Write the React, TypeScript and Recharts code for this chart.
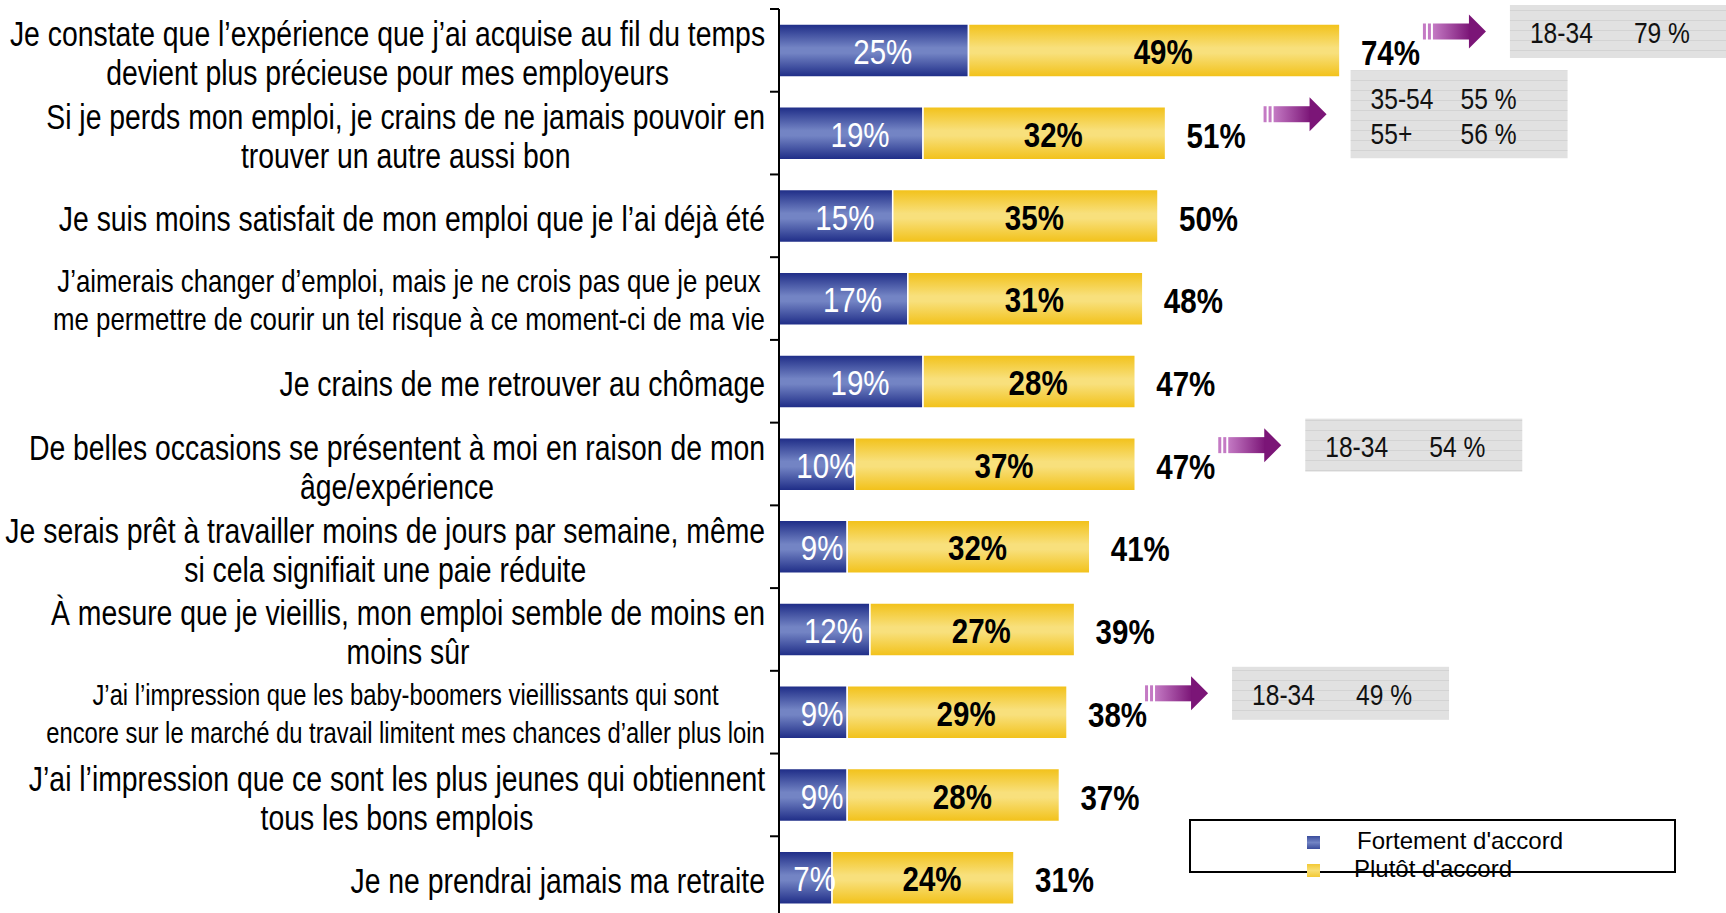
import React from 'react';
import { BarChart, Bar, XAxis, YAxis, LabelList, Legend } from 'recharts';

const CATEGORIES = [
  "Je constate que l’expérience que j’ai acquise au fil du temps\ndevient plus précieuse pour mes employeurs",
  "Si je perds mon emploi, je crains de ne jamais pouvoir en\ntrouver un autre aussi bon",
  "Je suis moins satisfait de mon emploi que je l’ai déjà été",
  "J’aimerais changer d’emploi, mais je ne crois pas que je peux\nme permettre de courir un tel risque à ce moment-ci de ma vie",
  "Je crains de me retrouver au chômage",
  "De belles occasions se présentent à moi en raison de mon\nâge/expérience",
  "Je serais prêt à travailler moins de jours par semaine, même\nsi cela signifiait une paie réduite",
  "À mesure que je vieillis, mon emploi semble de moins en\nmoins sûr",
  "J’ai l’impression que les baby-boomers vieillissants qui sont\nencore sur le marché du travail limitent mes chances d’aller plus loin",
  "J’ai l’impression que ce sont les plus jeunes qui obtiennent\ntous les bons emplois",
  "Je ne prendrai jamais ma retraite",
];
const STRONGLY = [25, 19, 15, 17, 19, 10, 9, 12, 9, 9, 7];
const SOMEWHAT = [49, 32, 35, 31, 28, 37, 32, 27, 29, 28, 24];
const TOTALS = [74, 51, 50, 48, 47, 47, 41, 39, 38, 37, 31];
const SERIES_NAMES = ["Fortement d'accord", "Plutôt d'accord"];

const ANNOTATION_ROWS = [0, 1, 5, 8];
const ANNOTATION_TEXT = [
  [["18-34", "79 %"]],
  [["35-54", "55 %"], ["55+", "56 %"]],
  [["18-34", "54 %"]],
  [["18-34", "49 %"]],
];
const SMALL_LABEL_SIZES: Record<number, number> = { 3: 31.5, 8: 29 };

const data = CATEGORIES.map((label, i) => ({
  label,
  strongly: STRONGLY[i],
  somewhat: SOMEWHAT[i],
  total: TOTALS[i],
}));

const SANS = "'Liberation Sans', Arimo, Arial, sans-serif";
const NARROW = 0.82;
const CHART_H = 930;
const M_TOP = 9;
const M_BOTTOM = 11;
const BAND = (CHART_H - M_TOP - M_BOTTOM) / CATEGORIES.length;
const AXIS_X = 779;
const LABEL_RIGHT = 765;
const MAIN_LABEL_SIZE = 34.6;

let ctx: any = null;
function measure(text: string, fs: number) {
  if (!ctx) {
    const c = document.createElement('canvas');
    ctx = c.getContext('2d');
  }
  ctx.font = `${fs}px ${SANS}`;
  return ctx.measureText(text).width * NARROW;
}

const NText = ({ x, y, size, anchor = 'start', weight = 'normal', fill = '#000', children }: any) => (
  <text
    transform={`translate(${x},${y}) scale(${NARROW},1)`}
    x={0}
    y={0}
    textAnchor={anchor}
    dominantBaseline="central"
    fontFamily={SANS}
    fontSize={size}
    fontWeight={weight}
    fill={fill}
  >
    {children}
  </text>
);

const CategoryTick = (props: any) => {
  const { y, payload } = props;
  const index = props.index ?? payload.index;
  const lines = String(payload.value).split('\n');
  const fs = SMALL_LABEL_SIZES[index] ?? MAIN_LABEL_SIZE;
  const small = fs < MAIN_LABEL_SIZE;
  const w = Math.max(...lines.map((l) => measure(l, fs)));
  const cx = LABEL_RIGHT - w / 2;
  const ys = lines.length === 1 ? [y + 3] : small ? [y - 17, y + 21] : [y - 16, y + 23];
  return (
    <g>
      <line x1={AXIS_X - 9} x2={AXIS_X} y1={y - BAND / 2} y2={y - BAND / 2} stroke="#000" strokeWidth={2} />
      {index === CATEGORIES.length - 1 && (
        <line x1={AXIS_X - 9} x2={AXIS_X} y1={y + BAND / 2} y2={y + BAND / 2} stroke="#000" strokeWidth={2} />
      )}
      {lines.map((l, k) => (
        <NText
          key={k}
          x={lines.length === 1 ? LABEL_RIGHT : cx}
          y={ys[k]}
          anchor={lines.length === 1 ? 'end' : 'middle'}
          size={fs}
        >
          {l}
        </NText>
      ))}
    </g>
  );
};

const InnerLabel = (color: string, weight: string) => (props: any) => {
  const { x, y, width, height, value } = props;
  return (
    <NText x={x + width / 2 + 9} y={y + height / 2 + 1} anchor="middle" size={36} weight={weight} fill={color}>
      {value}%
    </NText>
  );
};

const TotalAndAnnotation = (props: any) => {
  const { x, y, width, height, index } = props;
  const end = x + width;
  const cy = y + height / 2;
  const total = TOTALS[index];
  const ai = ANNOTATION_ROWS.indexOf(index);
  let annotation = null;
  if (ai >= 0) {
    const rows = ANNOTATION_TEXT[ai];
    const ax = end + (index === 1 ? 98 : index === 8 ? 78 : 83);
    const ay = cy - 19;
    const bx = ax + 87;
    const bh = rows.length === 1 ? 53 : 88;
    const by = ay - bh / 2;
    annotation = (
      <g>
        <rect x={ax} y={ay - 8} width={3} height={16} fill="#c47ac4" />
        <rect x={ax + 5} y={ay - 8} width={3} height={16} fill="#c47ac4" />
        <rect x={ax + 10} y={ay - 8} width={37} height={16} fill="url(#arrowGrad)" />
        <polygon points={`${ax + 46},${ay - 17} ${ax + 63},${ay} ${ax + 46},${ay + 17}`} fill="#7b1577" />
        <rect x={bx} y={by} width={217} height={bh} fill="url(#greyTex)" />
        {rows.map((r, k) => {
          const ty = rows.length === 1 ? ay + 1 : ay - 16 + k * 35;
          return (
            <g key={k}>
              <NText x={bx + 20} y={ty} size={30} fill="#111">{r[0]}</NText>
              <NText x={bx + (rows.length === 1 ? 124 : 110)} y={ty} size={30} fill="#111">{r[1]}</NText>
            </g>
          );
        })}
      </g>
    );
  }
  return (
    <g>
      <NText x={end + 21} y={cy + 2} size={36} weight="bold">
        {total}%
      </NText>
      {annotation}
    </g>
  );
};

const LegendContent = () => (
  <div style={{ position: 'relative', width: 487, height: 54, fontFamily: SANS }}>
    <div style={{ position: 'absolute', left: 0, top: 0, width: 483, height: 50, border: '2px solid #000', background: '#fff' }} />
    <div style={{ position: 'absolute', left: 118, top: 17, width: 13, height: 13, background: 'linear-gradient(#3a4c9c, #7284c4, #3a4c9c)' }} />
    <div style={{ position: 'absolute', left: 168, top: 6, fontSize: 24, lineHeight: '32px', color: '#000', whiteSpace: 'nowrap' }}>{SERIES_NAMES[0]}</div>
    <div style={{ position: 'absolute', left: 118, top: 45, width: 13, height: 13, background: 'linear-gradient(#f3c935, #f8df75, #f3c935)' }} />
    <div style={{ position: 'absolute', left: 165, top: 34, fontSize: 24, lineHeight: '32px', color: '#000', whiteSpace: 'nowrap' }}>{SERIES_NAMES[1]}</div>
  </div>
);

export default function App() {
  return (
    <div style={{ position: 'absolute', left: 0, top: 0, width: 1726, height: 913, overflow: 'hidden', background: '#fff' }}>
      <BarChart
        width={1726}
        height={CHART_H}
        data={data}
        layout="vertical"
        margin={{ top: M_TOP, right: 189, bottom: M_BOTTOM, left: 0 }}
        barSize={53}
      >
        <defs>
          <linearGradient id="blueGrad" x1="0" y1="0" x2="0" y2="1">
            <stop offset="0%" stopColor="#1d2b86" />
            <stop offset="45%" stopColor="#7384c4" />
            <stop offset="55%" stopColor="#7384c4" />
            <stop offset="100%" stopColor="#1d2b86" />
          </linearGradient>
          <linearGradient id="yellowGrad" x1="0" y1="0" x2="0" y2="1">
            <stop offset="0%" stopColor="#f2c118" />
            <stop offset="45%" stopColor="#f8e07c" />
            <stop offset="55%" stopColor="#f8e07c" />
            <stop offset="100%" stopColor="#f2c118" />
          </linearGradient>
          <linearGradient id="arrowGrad" x1="0" y1="0" x2="1" y2="0">
            <stop offset="0%" stopColor="#c47ac4" />
            <stop offset="100%" stopColor="#7b1577" />
          </linearGradient>
          <pattern id="greyTex" width="10" height="10" patternUnits="userSpaceOnUse">
            <rect width="10" height="10" fill="#e1e1e1" />
            <rect y="0" width="10" height="1" fill="#d3d3d3" />
          </pattern>
        </defs>
        <XAxis type="number" domain={[0, 100]} hide />
        <YAxis
          type="category"
          dataKey="label"
          width={AXIS_X}
          axisLine={{ stroke: '#000', strokeWidth: 2 }}
          tickLine={false}
          tick={CategoryTick}
          interval={0}
        />
        <Legend
          layout="vertical"
          align="center"
          verticalAlign="middle"
          content={LegendContent}
          wrapperStyle={{ left: 1189, top: 819, width: 487, height: 54 }}
        />
        <Bar dataKey="strongly" name={SERIES_NAMES[0]} stackId="a" fill="url(#blueGrad)" stroke="#fff" strokeWidth={1.5} isAnimationActive={false}>
          <LabelList dataKey="strongly" content={InnerLabel('#fff', 'normal')} />
        </Bar>
        <Bar dataKey="somewhat" name={SERIES_NAMES[1]} stackId="a" fill="url(#yellowGrad)" stroke="#fff" strokeWidth={1.5} isAnimationActive={false}>
          <LabelList dataKey="somewhat" content={InnerLabel('#000', 'bold')} />
          <LabelList dataKey="total" content={TotalAndAnnotation} />
        </Bar>
      </BarChart>
    </div>
  );
}
